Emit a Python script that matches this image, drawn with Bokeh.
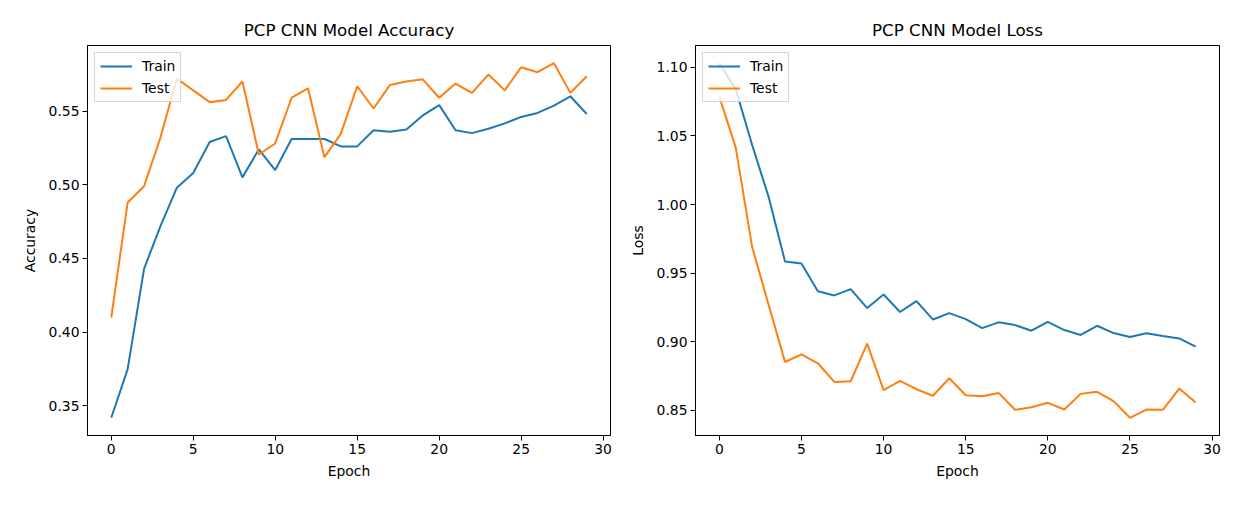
from bokeh.plotting import figure
from bokeh.layouts import row
from bokeh.models import Range1d, FixedTicker, NumeralTickFormatter
from bokeh.embed import file_html
from bokeh.resources import INLINE

epochs = list(range(30))
train_acc = [0.342, 0.375, 0.443, 0.472, 0.498, 0.508, 0.529, 0.533, 0.505, 0.524,
             0.510, 0.531, 0.531, 0.531, 0.526, 0.526, 0.537, 0.536, 0.5375, 0.547,
             0.554, 0.537, 0.535, 0.538, 0.5416, 0.546, 0.5487, 0.5537, 0.560, 0.548]
test_acc = [0.410, 0.488, 0.499, 0.532, 0.572, 0.564, 0.556, 0.5575, 0.570, 0.5205,
            0.528, 0.559, 0.5654, 0.5187, 0.5345, 0.5668, 0.5517, 0.5677, 0.570, 0.5715,
            0.559, 0.5686, 0.5623, 0.5747, 0.564, 0.5797, 0.5763, 0.5824, 0.5623, 0.5736]
train_loss = [1.1029, 1.084, 1.0433, 1.0056, 0.9585, 0.957, 0.9369, 0.9338, 0.9384, 0.9246,
              0.9345, 0.9217, 0.9297, 0.9163, 0.9209, 0.9165, 0.910, 0.9142, 0.9122, 0.9081,
              0.9146, 0.9086, 0.905, 0.9117, 0.9064, 0.9035, 0.9062, 0.9042, 0.9025, 0.8965]
test_loss = [1.0786, 1.0414, 0.969, 0.927, 0.8853, 0.8909, 0.8844, 0.8708, 0.8713, 0.8987,
             0.8648, 0.8716, 0.8655, 0.8607, 0.8735, 0.8611, 0.8604, 0.8628, 0.8505, 0.8524,
             0.8556, 0.8507, 0.8621, 0.8636, 0.8568, 0.8447, 0.8507, 0.8505, 0.866, 0.8558]

x_ticks = [0, 5, 10, 15, 20, 25, 30]
acc_ticks = [0.35, 0.40, 0.45, 0.50, 0.55]
loss_ticks = [0.85, 0.90, 0.95, 1.00, 1.05, 1.10]

BLUE = "#1f77b4"
ORANGE = "#ff7f0e"
FONT = "DejaVu Sans"


def padded(vals, frac=0.05):
    lo, hi = min(vals), max(vals)
    span = hi - lo
    return lo - frac * span, hi + frac * span


def make(title, ylabel, train, test, yticks, bl, br, fw):
    xlo, xhi = padded(epochs)
    ylo, yhi = padded(train + test)
    p = figure(frame_width=fw, frame_height=390,
               min_border_left=bl, min_border_right=br, min_border_top=45,
               min_border_bottom=58,
               x_range=Range1d(xlo, xhi), y_range=Range1d(ylo, yhi),
               output_backend="svg", toolbar_location=None, title=title)
    p.title.align = "center"
    p.title.text_font = FONT
    p.title.text_font_size = "16.7px"
    p.title.text_font_style = "normal"
    p.title.text_color = "black"
    p.title.standoff = 12
    p.line(epochs, train, color=BLUE, line_width=2, legend_label="Train")
    p.line(epochs, test, color=ORANGE, line_width=2, legend_label="Test")
    p.xgrid.visible = False
    p.ygrid.visible = False
    p.outline_line_color = "black"
    p.outline_line_alpha = 1
    p.outline_line_width = 1
    for ax in (p.xaxis[0], p.yaxis[0]):
        ax.axis_line_color = "black"
        ax.major_tick_line_color = "black"
        ax.major_tick_out = 5
        ax.major_tick_in = 0
        ax.minor_tick_line_color = None
        ax.major_label_text_font = FONT
        ax.major_label_text_font_size = "13.9px"
        ax.major_label_text_color = "black"
        ax.axis_label_text_font = FONT
        ax.axis_label_text_font_size = "13.9px"
        ax.axis_label_text_font_style = "normal"
        ax.axis_label_text_color = "black"
        ax.major_label_standoff = 3
    p.xaxis[0].axis_label_standoff = 6
    p.yaxis[0].axis_label_standoff = 8
    p.xaxis.ticker = FixedTicker(ticks=x_ticks)
    p.yaxis.ticker = FixedTicker(ticks=yticks)
    p.yaxis.formatter = NumeralTickFormatter(format="0.00")
    p.xaxis.axis_label = "Epoch"
    p.yaxis.axis_label = ylabel
    lg = p.legend[0]
    lg.location = "top_left"
    lg.margin = 7
    lg.padding = 5
    lg.spacing = 6
    lg.label_height = 16
    lg.glyph_height = 16
    lg.glyph_width = 32
    lg.label_standoff = 10
    lg.label_text_font = FONT
    lg.label_text_font_size = "13.9px"
    lg.label_text_color = "black"
    lg.border_line_color = "#cccccc"
    lg.border_line_alpha = 0.8
    lg.background_fill_alpha = 0.8
    return p


p1 = make("PCP CNN Model Accuracy", "Accuracy", train_acc, test_acc, acc_ticks, 87, 10, 523)
p2 = make("PCP CNN Model Loss", "Loss", train_loss, test_loss, loss_ticks, 75, 5, 524)

layout = row(p1, p2)
open("out.html", "w").write(file_html(layout, INLINE))
